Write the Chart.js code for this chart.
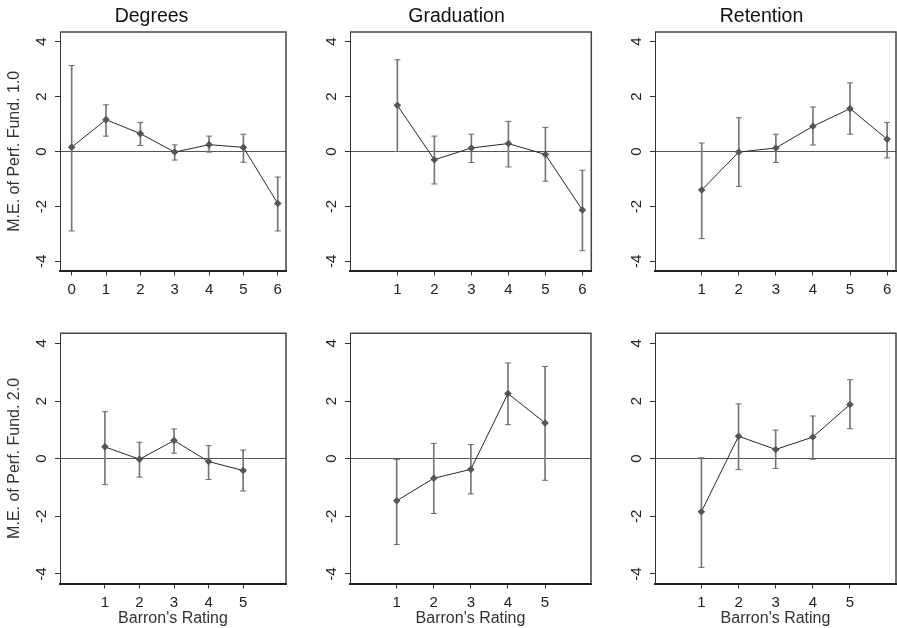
<!DOCTYPE html>
<html>
<head>
<meta charset="utf-8">
<script src="https://cdn.jsdelivr.net/npm/chart.js@4.4.1/dist/chart.umd.min.js"></script>
<style>
  html, body { margin: 0; padding: 0; background: #fff; overflow: hidden; }
  body { width: 897px; height: 628px; position: relative; }
  canvas { position: absolute; }
</style>
</head>
<body>
<canvas id="p1"></canvas>
<canvas id="p2"></canvas>
<canvas id="p3"></canvas>
<canvas id="p4"></canvas>
<canvas id="p5"></canvas>
<canvas id="p6"></canvas>
<script>
// tick labels / categories
const yTicks = [-4, -2, 0, 2, 4];
const ratingsDeg1 = [0, 1, 2, 3, 4, 5, 6];
const ratings1 = [1, 2, 3, 4, 5, 6];
const ratings2 = [1, 2, 3, 4, 5];

const yLabel1 = "M.E. of Perf. Fund. 1.0";
const yLabel2 = "M.E. of Perf. Fund. 2.0";
const xLabel = "Barron's Rating";

// Perf. Fund. 1.0 : estimate, lower bound, upper bound
const deg1 = [0.16, 1.16, 0.65, -0.02, 0.25, 0.15, -1.89];
const deg1Lo = [-2.89, 0.56, 0.22, -0.31, -0.02, -0.39, -2.89];
const deg1Hi = [3.13, 1.70, 1.06, 0.24, 0.56, 0.63, -0.93];

const grad1 = [1.68, -0.30, 0.13, 0.29, -0.11, -2.13];
const grad1Lo = [0.0, -1.18, -0.40, -0.56, -1.08, -3.61];
const grad1Hi = [3.34, 0.56, 0.63, 1.10, 0.88, -0.68];

const ret1 = [-1.40, -0.02, 0.13, 0.92, 1.56, 0.45];
const ret1Lo = [-3.17, -1.27, -0.40, 0.24, 0.63, -0.23];
const ret1Hi = [0.31, 1.23, 0.63, 1.62, 2.50, 1.06];

// Perf. Fund. 2.0
const deg2 = [0.41, -0.02, 0.63, -0.10, -0.41];
const deg2Lo = [-0.90, -0.64, 0.19, -0.72, -1.12];
const deg2Hi = [1.63, 0.57, 1.03, 0.45, 0.30];

const grad2 = [-1.46, -0.68, -0.37, 2.26, 1.24];
const grad2Lo = [-2.98, -1.90, -1.22, 1.18, -0.75];
const grad2Hi = [-0.03, 0.53, 0.49, 3.32, 3.20];

const ret2 = [-1.84, 0.78, 0.32, 0.75, 1.88];
const ret2Lo = [-3.77, -0.38, -0.34, -0.02, 1.04];
const ret2Hi = [0.03, 1.90, 0.99, 1.48, 2.74];

Chart.defaults.font.family = '"Liberation Sans", Arial, sans-serif';
Chart.defaults.color = '#222';

// draws the top and right sides of the plot box
const framePlugin = {
  id: 'frame',
  afterDraw(chart) {
    const ctx = chart.ctx;
    const a = chart.chartArea;
    ctx.save();
    ctx.strokeStyle = '#444';
    ctx.lineWidth = 1.5;
    ctx.beginPath();
    ctx.moveTo(a.left, a.top);
    ctx.lineTo(a.right, a.top);
    ctx.lineTo(a.right, a.bottom);
    ctx.stroke();
    ctx.restore();
  }
};

function makePanel(p, g) {
  const canvas = document.getElementById(p.id);
  canvas.width = g.width;
  canvas.height = g.height;
  canvas.style.left = g.left + 'px';
  canvas.style.top = g.top + 'px';

  const points = p.x.map((x, i) => ({ x: x, y: p.est[i] }));
  const bars = p.x.map((x, i) => ({ x: x, y: [p.lo[i], p.hi[i]] }));
  const caps = [];
  p.x.forEach((x, i) => {
    caps.push({ x: x, y: p.lo[i] });
    caps.push({ x: x, y: p.hi[i] });
  });

  new Chart(canvas, {
    type: 'scatter',
    data: {
      datasets: [
        {
          type: 'line', data: points, order: 0,
          borderColor: '#2a2a2a', borderWidth: 1, tension: 0,
          pointStyle: 'rectRot', pointRadius: 3.8,
          pointBackgroundColor: '#555', pointBorderColor: '#555', pointBorderWidth: 0
        },
        {
          type: 'scatter', data: caps, order: 1,
          pointStyle: 'line', pointRadius: 3,
          pointBorderColor: '#6e6e6e', pointBorderWidth: 1
        },
        {
          type: 'bar', data: bars, order: 2,
          backgroundColor: '#777', barThickness: 1, borderWidth: 0
        }
      ]
    },
    options: {
      responsive: false,
      animation: false,
      events: [],
      layout: { padding: { top: g.padTop } },
      plugins: {
        legend: { display: false },
        tooltip: { enabled: false },
        title: {
          display: !!p.title, text: p.title, color: '#111',
          font: { size: 19.5, weight: 'normal' },
          padding: { top: 5.4, bottom: 3.2 }
        }
      },
      scales: {
        x: {
          type: 'linear', min: p.xMin, max: 6.24, offset: false,
          afterBuildTicks: s => { s.ticks = p.x.map(v => ({ value: v })); },
          afterFit: s => { s.height = g.xAxisH; },
          grid: { drawOnChartArea: false, drawTicks: true, tickLength: 5, tickColor: '#333', offset: false },
          border: { display: true, color: '#222', width: 2 },
          ticks: { padding: 5.5, font: { size: 15 }, minRotation: 0, maxRotation: 0, autoSkip: false },
          title: {
            display: !!p.xTitle, text: p.xTitle, font: { size: 16 }, color: '#333',
            padding: { top: 0, bottom: 0 }
          }
        },
        y: {
          type: 'linear', min: -4.33, max: 4.35,
          afterBuildTicks: s => { s.ticks = yTicks.map(v => ({ value: v })); },
          afterFit: s => { s.width = g.yAxisW; },
          grid: {
            color: c => (c.tick && c.tick.value === 0) ? '#555' : 'rgba(0,0,0,0)',
            drawTicks: true, tickLength: 5, tickColor: '#333'
          },
          border: { display: true, color: '#333', width: 1 },
          ticks: { padding: 6.3, minRotation: 90, maxRotation: 90, crossAlign: 'center', font: { size: 15 }, autoSkip: false },
          title: {
            display: !!p.yTitle, text: p.yTitle, font: { size: 16 }, color: '#333',
            padding: { top: 5, bottom: 0 }
          }
        },
        spacer: {
          position: 'right', display: true,
          afterFit: s => { s.width = g.spacerW; },
          grid: { display: false }, border: { display: false }, ticks: { display: false }
        }
      }
    },
    plugins: [framePlugin]
  });
}

const panels = [
  { id: 'p1', title: 'Degrees', yTitle: yLabel1, x: ratingsDeg1, est: deg1, lo: deg1Lo, hi: deg1Hi, xMin: -0.34 },
  { id: 'p2', title: 'Graduation', x: ratings1, est: grad1, lo: grad1Lo, hi: grad1Hi, xMin: -0.28 },
  { id: 'p3', title: 'Retention', x: ratings1, est: ret1, lo: ret1Lo, hi: ret1Hi, xMin: -0.26 },
  { id: 'p4', yTitle: yLabel2, xTitle: xLabel, x: ratings2, est: deg2, lo: deg2Lo, hi: deg2Hi, xMin: -0.30 },
  { id: 'p5', xTitle: xLabel, x: ratings2, est: grad2, lo: grad2Lo, hi: grad2Hi, xMin: -0.26 },
  { id: 'p6', xTitle: xLabel, x: ratings2, est: ret2, lo: ret2Lo, hi: ret2Hi, xMin: -0.25 }
];

const layouts = [
  { left: 0, top: 0, width: 303, height: 300, yAxisW: 60, spacerW: 17, padTop: 0, xAxisH: 29.5 },
  { left: 300, top: 0, width: 313, height: 300, yAxisW: 50, spacerW: 21.7, padTop: 0, xAxisH: 29.5 },
  { left: 605, top: 0, width: 313, height: 300, yAxisW: 50, spacerW: 22, padTop: 0, xAxisH: 29.5 },
  { left: 0, top: 300, width: 291, height: 328, yAxisW: 60, spacerW: 5, padTop: 33.3, xAxisH: 44.5 },
  { left: 300, top: 300, width: 296, height: 328, yAxisW: 50, spacerW: 4.7, padTop: 33.3, xAxisH: 44.5 },
  { left: 605, top: 300, width: 296, height: 328, yAxisW: 50, spacerW: 5, padTop: 33.3, xAxisH: 44.5 }
];

panels.forEach((p, i) => makePanel(p, layouts[i]));
</script>
</body>
</html>
